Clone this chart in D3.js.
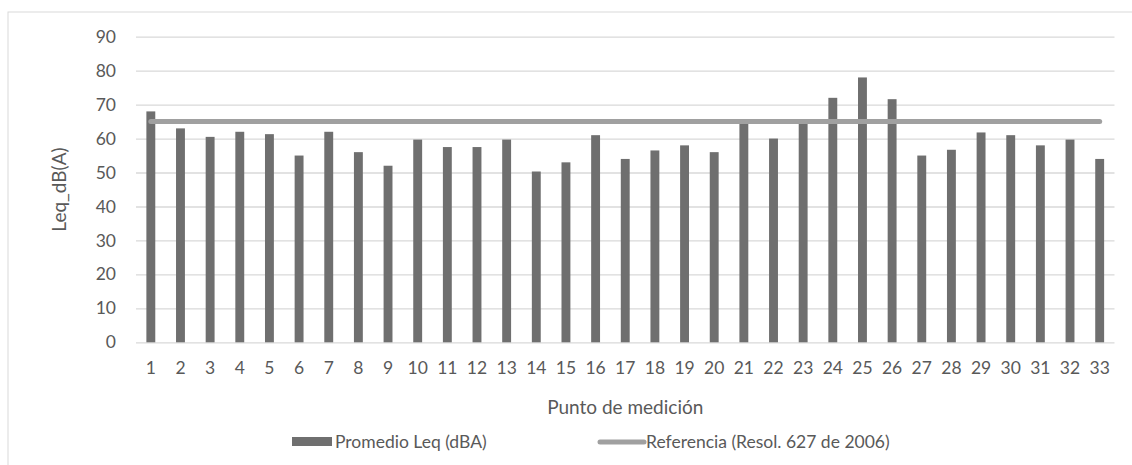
<!DOCTYPE html>
<html>
<head>
<meta charset="utf-8">
<script src="https://cdn.jsdelivr.net/npm/d3@7"></script>
<style>
body{margin:0;background:#fff;}
text{font-family:Lato,"Open Sans",sans-serif;fill:#595959;}
</style>
</head>
<body>
<svg id="chart" width="1132" height="465"></svg>
<script>
// puntos de medicion
var puntos = d3.range(1, 34).map(String);
// Promedio Leq (dBA)
var promedioLeq = [68, 63, 60.5, 62, 61.3, 55, 62, 56, 52, 59.7, 57.5, 57.5, 59.7, 50.3,
	53, 61, 54, 56.5, 58, 56, 64.5, 60, 64.5, 72, 78, 71.6, 55, 56.7, 61.8, 61, 58, 59.7, 54];
// Referencia (Resol. 627 de 2006)
var referencia = 65;
var yTicks = [0, 10, 20, 30, 40, 50, 60, 70, 80, 90];

var svg = d3.select('#chart');
var plotLeft = 136, plotRight = 1114.5, plotTop = 36.7, plotBottom = 342.3;

// frame of the chart area
svg.append('rect').attr('x', 8).attr('y', 12).attr('width', 1140).attr('height', 470)
	.attr('fill', 'none').attr('stroke', '#d9d9d9').attr('stroke-width', 1);

var x = d3.scaleBand().domain(puntos).range([plotLeft, plotRight]).paddingInner(0.7).paddingOuter(0.35);
var y = d3.scaleLinear().domain([0, 90]).range([plotBottom, plotTop]);

/** gridlines + y labels */
var yAxis = svg.append('g').attr('transform', 'translate(' + plotLeft + ',0)')
	.call(d3.axisLeft(y).tickValues(yTicks).tickSize(-(plotRight - plotLeft)).tickPadding(20));
yAxis.select('.domain').remove();
yAxis.selectAll('line').attr('stroke', '#d9d9d9').attr('stroke-width', 1.3);
yAxis.selectAll('text').style('font-size', '17.5px').attr('fill', '#595959');

/** x labels */
var xAxis = svg.append('g').attr('transform', 'translate(0,' + plotBottom + ')')
	.call(d3.axisBottom(x).tickSize(0).tickPadding(19));
xAxis.select('.domain').remove();
xAxis.selectAll('text').style('font-size', '17.5px').attr('fill', '#595959');

// bars
svg.append('g').selectAll('rect').data(promedioLeq).enter().append('rect')
	.attr('x', function(d, i){return x(puntos[i]);})
	.attr('y', function(d){return y(d);})
	.attr('width', x.bandwidth())
	.attr('height', function(d){return y(0) - y(d);})
	.attr('fill', '#6f6f6f');

// reference line
var refLine = d3.line()
	.x(function(d){return x(d) + x.bandwidth() / 2;})
	.y(function(){return y(referencia);});
svg.append('path').datum([puntos[0], puntos[puntos.length - 1]])
	.attr('d', refLine).attr('fill', 'none')
	.attr('stroke', '#a0a0a0').attr('stroke-width', 5).attr('stroke-linecap', 'round');

// axis titles
svg.append('text').attr('x', (plotLeft + plotRight) / 2).attr('y', 414)
	.attr('text-anchor', 'middle').style('font-size', '19px').text('Punto de medición');
svg.append('text').attr('transform', 'translate(66,' + ((plotTop + plotBottom) / 2) + ') rotate(-90)')
	.attr('text-anchor', 'middle').style('font-size', '19px').text('Leq_dB(A)');

// legend
var lg = svg.append('g');
lg.append('rect').attr('x', 292).attr('y', 437).attr('width', 40).attr('height', 9).attr('fill', '#6f6f6f');
lg.append('text').attr('x', 335).attr('y', 448).style('font-size', '17.5px').text('Promedio Leq (dBA)');
lg.append('line').attr('x1', 600).attr('x2', 644).attr('y1', 442).attr('y2', 442)
	.attr('stroke', '#a0a0a0').attr('stroke-width', 5).attr('stroke-linecap', 'round');
lg.append('text').attr('x', 646).attr('y', 448).style('font-size', '17.5px').text('Referencia (Resol. 627 de 2006)');
</script>
</body>
</html>
